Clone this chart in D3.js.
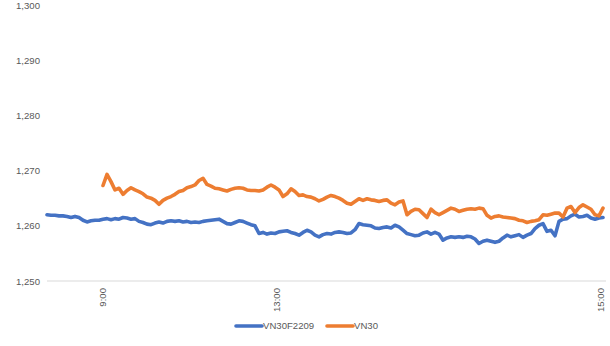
<!DOCTYPE html>
<html>
<head>
<meta charset="utf-8">
<script src="https://cdn.jsdelivr.net/npm/d3@7"></script>
<style>
  html, body { margin: 0; padding: 0; background: #fff; }
  svg { display: block; }
  text { font-family: "Liberation Sans", Arial, sans-serif; fill: #595959; }
</style>
</head>
<body>
<svg id="chart" width="610" height="346"></svg>
<script>
// ---- data ----
const seriesNames = ["VN30F2209", "VN30"];
const seriesColors = ["#4472C4", "#ED7D31"];
const yTicks = [1250, 1260, 1270, 1280, 1290, 1300];
const xTickLabels = ["9:00", "13:00", "15:00"];
const xTickIndex = [14, 57.5, 138.5];

const vn30f = [
  1262.0,1261.9,1261.9,1261.8,1261.8,1261.7,1261.5,1261.7,1261.5,1261.0,
  1260.7,1260.9,1261.0,1261.0,1261.2,1261.3,1261.1,1261.3,1261.2,1261.5,
  1261.4,1261.2,1261.3,1260.8,1260.6,1260.3,1260.2,1260.5,1260.7,1260.5,
  1260.8,1260.9,1260.8,1260.9,1260.7,1260.8,1260.6,1260.7,1260.6,1260.8,
  1260.9,1261.0,1261.1,1261.2,1260.8,1260.4,1260.3,1260.6,1260.9,1260.8,
  1260.5,1260.2,1260.0,1258.6,1258.8,1258.5,1258.7,1258.6,1258.9,1259.0,
  1259.1,1258.8,1258.6,1258.3,1258.8,1259.2,1258.9,1258.3,1258.0,1258.4,
  1258.6,1258.5,1258.8,1258.9,1258.8,1258.6,1258.7,1259.3,1260.4,1260.2,
  1260.1,1260.0,1259.6,1259.5,1259.7,1259.8,1259.6,1260.1,1259.8,1259.2,
  1258.6,1258.4,1258.2,1258.3,1258.7,1258.9,1258.5,1258.8,1258.5,1257.4,
  1257.8,1258.0,1257.9,1258.0,1257.9,1258.1,1258.0,1257.6,1256.8,1257.2,
  1257.4,1257.2,1257.0,1257.2,1257.8,1258.3,1258.0,1258.2,1258.4,1257.9,
  1258.3,1258.6,1259.5,1260.1,1260.4,1259.0,1259.2,1258.2,1260.8,1261.2,
  1261.3,1261.8,1262.1,1261.6,1261.7,1261.9,1261.4,1261.2,1261.4,1261.5
];

const vn30 = [
  null,null,null,null,null,null,null,null,null,null,null,null,null,null,
  1267.3,1269.3,1268.0,1266.5,1266.8,1265.7,1266.4,1266.9,1266.5,1266.2,
  1265.8,1265.2,1265.0,1264.6,1263.9,1264.6,1265.0,1265.3,1265.7,1266.2,
  1266.4,1266.9,1267.1,1267.4,1268.2,1268.6,1267.5,1267.2,1266.8,1266.7,
  1266.5,1266.3,1266.6,1266.8,1266.9,1266.8,1266.5,1266.4,1266.4,1266.3,
  1266.5,1267.0,1267.4,1267.0,1266.5,1265.3,1265.8,1266.7,1266.2,1265.5,
  1265.6,1265.3,1265.2,1264.9,1264.5,1264.8,1265.2,1265.5,1265.3,1265.0,
  1264.6,1264.1,1263.9,1264.4,1264.9,1264.6,1264.9,1264.7,1264.6,1264.4,
  1264.6,1264.7,1264.1,1263.8,1264.3,1264.5,1262.0,1262.6,1263.0,1262.9,
  1262.2,1261.5,1263.0,1262.4,1262.0,1262.4,1262.8,1263.2,1263.0,1262.6,
  1262.8,1263.0,1263.1,1263.0,1263.2,1263.1,1261.9,1261.4,1261.7,1261.8,
  1261.6,1261.5,1261.4,1261.3,1261.0,1260.9,1260.6,1260.8,1260.9,1261.1,
  1262.0,1261.9,1262.1,1262.3,1262.3,1261.6,1263.2,1263.5,1262.4,1263.3,
  1263.8,1263.4,1263.0,1262.0,1261.8,1263.2
];

// ---- chart ----
const svg = d3.select("#chart");
const plotLeft = 47, plotRight = 603, plotTop = 5, plotBottom = 281;

const x = d3.scaleLinear().domain([0, vn30f.length - 1]).range([plotLeft, plotRight]);
const y = d3.scaleLinear().domain([1250, 1300]).range([plotBottom, plotTop]);

// y axis labels (no axis line)
const yAxis = d3.axisLeft(y).tickValues(yTicks).tickSize(0).tickPadding(0)
  .tickFormat(d3.format(","));
const gy = svg.append("g").attr("transform", `translate(40,0)`).call(yAxis);
gy.select(".domain").remove();
gy.selectAll("text").style("font-size", "9.6px").attr("fill", "#595959")
  .style("font-family", '"Liberation Sans", Arial, sans-serif');

// x axis line
svg.append("line")
  .attr("x1", plotLeft).attr("x2", plotRight + 3)
  .attr("y1", y(1250)).attr("y2", y(1250))
  .attr("stroke", "#d9d9d9").attr("stroke-width", 1);

// x tick labels (rotated)
const gx = svg.append("g");
gx.selectAll("text").data(xTickLabels).join("text")
  .attr("transform", (d, i) => `translate(${x(xTickIndex[i])},${plotBottom + 7}) rotate(-90)`)
  .attr("text-anchor", "end")
  .attr("dy", "0.35em")
  .style("font-size", "9.6px")
  .text(d => d);

// lines
const line = d3.line()
  .defined(d => d != null)
  .x((d, i) => x(i))
  .y(d => y(d));

[vn30f, vn30].forEach((arr, k) => {
  svg.append("path")
    .datum(arr)
    .attr("fill", "none")
    .attr("stroke", seriesColors[k])
    .attr("stroke-width", 3.6)
    .attr("stroke-linejoin", "round")
    .attr("stroke-linecap", "round")
    .attr("d", line);
});

// legend
const legendItems = [
  { name: seriesNames[0], color: seriesColors[0], x0: 236 },
  { name: seriesNames[1], color: seriesColors[1], x0: 327 }
];
const lg = svg.append("g");
legendItems.forEach(it => {
  lg.append("line")
    .attr("x1", it.x0).attr("x2", it.x0 + 26)
    .attr("y1", 326).attr("y2", 326)
    .attr("stroke", it.color).attr("stroke-width", 3.6)
    .attr("stroke-linecap", "round");
  lg.append("text")
    .attr("x", it.x0 + 27).attr("y", 326).attr("dy", "0.35em")
    .style("font-size", "9.6px")
    .text(it.name);
});
</script>
</body>
</html>
